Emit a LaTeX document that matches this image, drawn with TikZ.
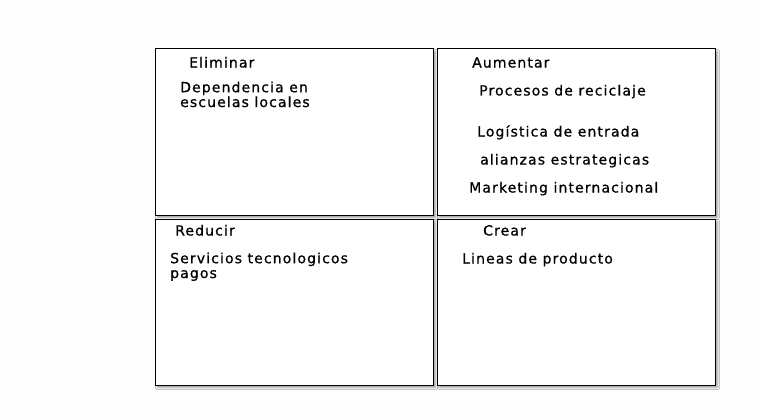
\documentclass[tikz,border=0pt]{standalone}
\usepackage{fontspec}
\setmainfont{DejaVu Sans}[LetterSpace=8, FakeBold=0.8]
\usetikzlibrary{shadows.blur}
\definecolor{bgc}{RGB}{253,253,253}
\tikzset{
  quad/.style={draw=black, line width=1pt, fill=white,
    blur shadow={shadow xshift=2.5pt, shadow yshift=-2.5pt, shadow blur steps=5, shadow opacity=40}},
  txt/.style={anchor=base west, inner sep=0pt, font=\fontsize{14}{14.8}\selectfont, align=left},
}
\begin{document}
\begin{tikzpicture}[x=1pt, y=-1pt]
\useasboundingbox (0,0) rectangle (760,420);
\fill[bgc] (0,0) rectangle (760,420);
\draw[quad] (155,49) rectangle (433,215);
\draw[quad] (437,49) rectangle (715,215);
\draw[quad] (155,219) rectangle (433,385);
\draw[quad] (437,219) rectangle (715,385);
\node[txt] (t1) at (189,67.5) {Eliminar};
\node[txt] (t2) at (180,107) {Dependencia en\\escuelas locales};
\node[txt] (t3) at (472,67.5) {Aumentar};
\node[txt] (t4) at (479,95.5) {Procesos de reciclaje};
\node[txt] (t5) at (477,136.5) {Logística de entrada};
\node[txt] (t6) at (480,164.5) {alianzas estrategicas};
\node[txt] (t7) at (469,192.5) {Marketing internacional};
\node[txt] (t8) at (175,235.5) {Reducir};
\node[txt] (t9) at (170,278) {Servicios tecnologicos\\pagos};
\node[txt] (t10) at (483,235.5) {Crear};
\node[txt] (t11) at (462,263.5) {Lineas de producto};
\end{tikzpicture}
\end{document}
